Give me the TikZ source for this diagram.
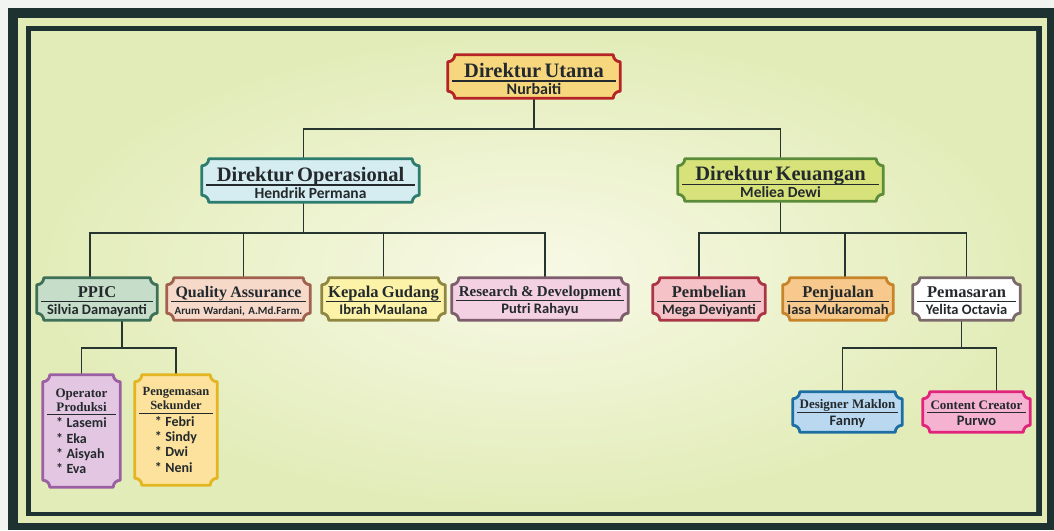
\documentclass[tikz,border=0pt]{standalone}
\usepackage{fontspec}
\setmainfont{Liberation Serif}
\newfontfamily\namefamily{Carlito}
\usepackage{tikz}

\pgfdeclarelayer{backdrop}
\pgfdeclarelayer{cards}
\pgfsetlayers{backdrop,cards,main}

\definecolor{paper}{HTML}{F2F4F2}
\definecolor{frameDark}{HTML}{1E3232}
\definecolor{frameLight}{HTML}{E2EBB6}
\definecolor{bgEdge}{HTML}{E2ECB8}
\definecolor{bgCenter}{HTML}{F8F9E6}
\definecolor{wire}{HTML}{26352F}
\definecolor{ink}{HTML}{23292C}
\definecolor{duFill}{HTML}{F6D77E}\definecolor{duLine}{HTML}{B52326}
\definecolor{doFill}{HTML}{D5ECF0}\definecolor{doLine}{HTML}{2C7C70}
\definecolor{dkFill}{HTML}{D7E27B}\definecolor{dkLine}{HTML}{5B8C3A}
\definecolor{ppicFill}{HTML}{C6DDC9}\definecolor{ppicLine}{HTML}{3E6F57}
\definecolor{qaFill}{HTML}{F7D9CA}\definecolor{qaLine}{HTML}{A0614F}
\definecolor{gudangFill}{HTML}{FCF3A9}\definecolor{gudangLine}{HTML}{8F8741}
\definecolor{rndFill}{HTML}{F3D1E3}\definecolor{rndLine}{HTML}{7E5D6C}
\definecolor{beliFill}{HTML}{F5C3C7}\definecolor{beliLine}{HTML}{AA3545}
\definecolor{jualFill}{HTML}{F7C98C}\definecolor{jualLine}{HTML}{C8842A}
\definecolor{pasarFill}{HTML}{FFFFFF}\definecolor{pasarLine}{HTML}{7B6A6A}
\definecolor{oprFill}{HTML}{E2C6E2}\definecolor{oprLine}{HTML}{9C5FA3}
\definecolor{kemasFill}{HTML}{FCE29C}\definecolor{kemasLine}{HTML}{E3B521}
\definecolor{dmFill}{HTML}{BAD9F1}\definecolor{dmLine}{HTML}{1C6EA3}
\definecolor{ccFill}{HTML}{F5B2D1}\definecolor{ccLine}{HTML}{E2237C}

\newcommand{\cardnotch}{7pt}
\newcommand{\itm}{*\ }
% title, rule, name
\newcommand{\cardtext}[4]{%
  {\fontsize{#1}{14}\selectfont\bfseries\rule{0pt}{#1pt}#2\par}%
  \vskip-\prevdepth\vskip3pt
  \hrule height 1.3pt
  \vskip1.5pt
  {\namefamily\bfseries\fontsize{#3}{15.2}\selectfont\rule[-2pt]{0pt}{13pt}#4\par}}

\tikzset{
  card/.style 2 args={rectangle, inner xsep=4pt, inner ysep=0pt, align=center,
    text width=\dimexpr#1pt-8pt\relax, minimum height=#2pt, text=ink},
  cardline/.style={line width=2.8pt, line join=round},
  link/.style={draw=wire, line width=1.8pt, line cap=rect}
}

\begin{document}
\begin{tikzpicture}[x=1pt,y=-1pt]
\useasboundingbox (0,0) rectangle (1054,530);

% frame
\begin{pgfonlayer}{backdrop}
  \fill[paper] (0,0) rectangle (1054,530);
  \fill[frameDark] (8,8) rectangle (1054,530);
  \fill[frameLight] (18,18) rectangle (1047,523);
  \fill[frameDark] (26,26) rectangle (1042,516);
  \shade[inner color=bgCenter, outer color=bgEdge] (31,31) rectangle (1036,511);
\end{pgfonlayer}

% level 1 and 2
\node[card={172}{43}] (du) at (534,76.5) {\cardtext{20.5}{Direktur Utama}{16}{Nurbaiti}};
\node[card={217}{43}] (do) at (310.5,180.5) {\cardtext{20.5}{Direktur Operasional}{15.5}{Hendrik Permana}};
\node[card={205}{42}] (dk) at (780.5,180) {\cardtext{20.5}{Direktur Keuangan}{15.5}{Meliea Dewi}};

% level 3
\node[card={120}{42}] (ppic) at (97,299) {\cardtext{16.5}{PPIC}{14.5}{Silvia Damayanti}};
\node[card={143}{42}] (qa) at (238.5,299) {\cardtext{16}{Quality Assurance}{11}{Arum Wardani, A.Md.Farm.}};
\node[card={123}{42}] (gudang) at (383.5,299) {\cardtext{16.5}{Kepala Gudang}{14.5}{Ibrah Maulana}};
\node[card={176}{42}] (rnd) at (540,299) {\cardtext{15}{Research \& Development}{14.5}{Putri Rahayu}};
\node[card={112}{42}] (beli) at (709,299) {\cardtext{16.5}{Pembelian}{14.5}{Mega Deviyanti}};
\node[card={110}{42}] (jual) at (838,299) {\cardtext{16.5}{Penjualan}{14.5}{Iasa Mukaromah}};
\node[card={107}{42}] (pasar) at (966.5,299) {\cardtext{16.5}{Pemasaran}{14.5}{Yelita Octavia}};

% level 4
\node[card={77}{112}] (opr) at (81.5,431) {\cardtext{13}{Operator\\Produksi}{14}{%
  \begin{tabular}[t]{@{}l@{}}\itm Lasemi\\\itm Eka\\\itm Aisyah\\\itm Eva\end{tabular}}};
\node[card={82}{110}] (kemas) at (176,430) {\cardtext{12.5}{Pengemasan\\Sekunder}{14}{%
  \begin{tabular}[t]{@{}l@{}}\itm Febri\\\itm Sindy\\\itm Dwi\\\itm Neni\end{tabular}}};
\node[card={109}{40}] (dm) at (847.5,412) {\cardtext{13}{Designer Maklon}{14.5}{Fanny}};
\node[card={107}{40}] (cc) at (976.5,412) {\cardtext{13}{Content Creator}{14.5}{Purwo}};

% bus lines
\coordinate (bus1) at (0,129);
\coordinate (bus2) at (0,233);
\coordinate (bus3) at (0,348);
\foreach \n/\s in {do/-7,dk/0,ppic/-7,qa/5,gudang/0,rnd/5,beli/-10,jual/7,pasar/0,opr/0,kemas/0,dm/-5,cc/20}
  \coordinate (\n-in) at ([xshift=\s pt]\n.north);
\foreach \n/\s in {du/0,do/-7,dk/0,ppic/25,pasar/-5}
  \coordinate (\n-out) at ([xshift=\s pt]\n.south);

\begin{pgfonlayer}{cards}
  \draw[link] (du-out) -- (du-out |- bus1);
  \draw[link] (do-in) -- (do-in |- bus1) -- (dk-in |- bus1) -- (dk-in);
  % operasional
  \draw[link] (do-out) -- (do-out |- bus2);
  \draw[link] (ppic-in |- bus2) -- (rnd-in |- bus2);
  \foreach \n in {ppic,qa,gudang,rnd}
    \draw[link] (\n-in) -- (\n-in |- bus2);
  % keuangan
  \draw[link] (dk-out) -- (dk-out |- bus2);
  \draw[link] (beli-in |- bus2) -- (pasar-in |- bus2);
  \foreach \n in {beli,jual,pasar}
    \draw[link] (\n-in) -- (\n-in |- bus2);
  % ppic and pemasaran
  \draw[link] (ppic-out) -- (ppic-out |- bus3);
  \draw[link] (opr-in |- bus3) -- (kemas-in |- bus3);
  \draw[link] (pasar-out) -- (pasar-out |- bus3);
  \draw[link] (dm-in |- bus3) -- (cc-in |- bus3);
  \foreach \n in {opr,kemas,dm,cc}
    \draw[link] (\n-in) -- (\n-in |- bus3);

  % notched card outlines
  \foreach \n/\f/\l in {du/duFill/duLine,do/doFill/doLine,dk/dkFill/dkLine,
      ppic/ppicFill/ppicLine,qa/qaFill/qaLine,gudang/gudangFill/gudangLine,
      rnd/rndFill/rndLine,beli/beliFill/beliLine,jual/jualFill/jualLine,
      pasar/pasarFill/pasarLine,opr/oprFill/oprLine,kemas/kemasFill/kemasLine,
      dm/dmFill/dmLine,cc/ccFill/ccLine}
    \draw[cardline, draw=\l, fill=\f]
      ([xshift=\cardnotch]\n.north west) -- ([xshift=-\cardnotch]\n.north east)
      arc[start angle=180, end angle=270, radius=\cardnotch]
      -- ([yshift=\cardnotch]\n.south east)
      arc[start angle=90, end angle=180, radius=\cardnotch]
      -- ([xshift=\cardnotch]\n.south west)
      arc[start angle=0, end angle=90, radius=\cardnotch]
      -- ([yshift=-\cardnotch]\n.north west)
      arc[start angle=270, end angle=360, radius=\cardnotch] -- cycle;
\end{pgfonlayer}
\end{tikzpicture}
\end{document}
